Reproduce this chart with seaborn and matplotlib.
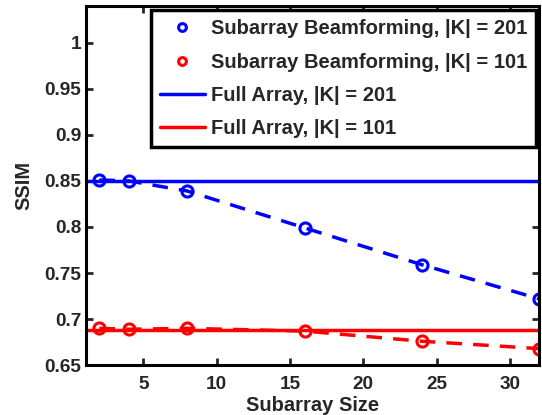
import numpy as np
import pandas as pd
import matplotlib
matplotlib.use("Agg")
import matplotlib.pyplot as plt
import seaborn as sns

subarray_size = [2, 4, 8, 16, 24, 32]
ssim_sub_201 = [0.851, 0.850, 0.839, 0.799, 0.759, 0.722]
ssim_sub_101 = [0.690, 0.689, 0.690, 0.687, 0.676, 0.668]
ssim_full_201 = 0.850
ssim_full_101 = 0.688

labels = ["Subarray Beamforming, |K| = 201",
          "Subarray Beamforming, |K| = 101",
          "Full Array, |K| = 201",
          "Full Array, |K| = 101"]
x_ticks = [5, 10, 15, 20, 25, 30]
y_ticks = [0.65, 0.7, 0.75, 0.8, 0.85, 0.9, 0.95, 1.0]
y_tick_labels = ["0.65", "0.7", "0.75", "0.8", "0.85", "0.9", "0.95", "1"]

sns.set_style("white")
plt.rcParams['font.family'] = ['Liberation Sans', 'DejaVu Sans']
plt.rcParams['font.weight'] = 'bold'

df = pd.DataFrame({"size": subarray_size, "k201": ssim_sub_201, "k101": ssim_sub_101})

fig = plt.figure(figsize=(5.42, 4.15), dpi=100)
ax = fig.add_axes([0.159, 0.12, 0.836, 0.866])

# dashed trend through the subarray results
sns.lineplot(data=df, x="size", y="k201", ax=ax, color="blue", linestyle="--",
             linewidth=2.5, legend=False, dashes=False)
sns.lineplot(data=df, x="size", y="k101", ax=ax, color="red", linestyle="--",
             linewidth=2.5, legend=False, dashes=False)
for ln in ax.get_lines():
    ln.set_dashes((4.5, 3.2))

# open circle markers
h1, = ax.plot(df["size"], df["k201"], linestyle="none", marker="o", markersize=8,
              markerfacecolor="none", markeredgecolor="blue", markeredgewidth=2.2)
h2, = ax.plot(df["size"], df["k101"], linestyle="none", marker="o", markersize=8,
              markerfacecolor="none", markeredgecolor="red", markeredgewidth=2.2)

h3 = ax.axhline(ssim_full_201, color="blue", linewidth=2.5)
h4 = ax.axhline(ssim_full_101, color="red", linewidth=2.5)

ax.set_xlim(1.1, 32)
ax.set_ylim(0.65, 1.04)
ax.set_xticks(x_ticks)
ax.set_yticks(y_ticks)
ax.set_yticklabels(y_tick_labels)
ax.tick_params(direction="in", length=5, width=2, labelsize=13.7, top=True, right=True,
               bottom=True, left=True)
ax.tick_params(axis="x", pad=8)
for lbl in ax.get_xticklabels() + ax.get_yticklabels():
    lbl.set_fontweight("bold")
for sp in ax.spines.values():
    sp.set_linewidth(2.2)
    sp.set_color("black")

ax.set_xlabel("Subarray Size", fontsize=14.5, fontweight="bold", labelpad=2)
ax.set_ylabel("SSIM", fontsize=14.5, fontweight="bold", labelpad=8)

leg = ax.legend([h1, h2, h3, h4], labels, loc="upper right",
                bbox_to_anchor=(0.995, 0.99), fontsize=14.5, frameon=True,
                fancybox=False, framealpha=1, edgecolor="black",
                handlelength=2.2, borderpad=0.45, labelspacing=0.7,
                handletextpad=0.3, borderaxespad=0.05, markerscale=0.7)
leg.get_frame().set_linewidth(2.5)
for t in leg.get_texts():
    t.set_fontweight("bold")

fig.savefig("out.png", dpi=100)
